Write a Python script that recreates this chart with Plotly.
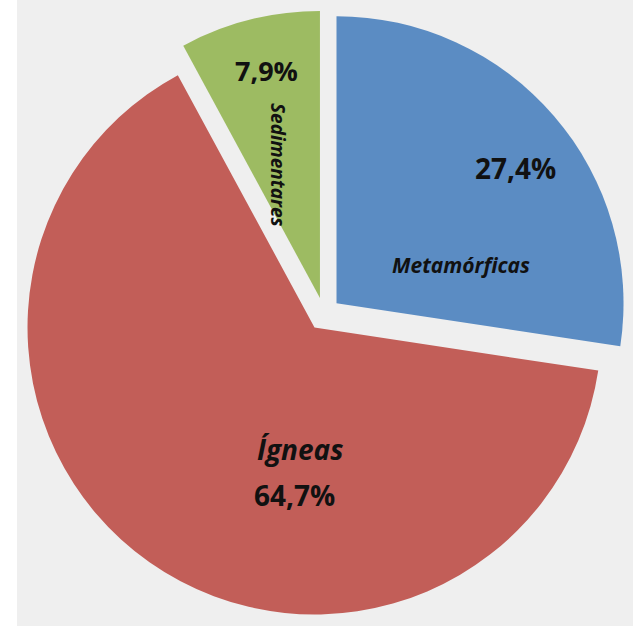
import plotly.graph_objects as go

# Rock types and their share of the total
labels = ["Metamórficas", "Ígneas", "Sedimentares"]
shares = [27.4, 64.7, 7.9]
colors = ["#5b8cc3", "#c25e58", "#9dbb62"]

W, H = 633, 626
FONT = "Open Sans"


def pct(v):
    return f"{v:.1f}".replace(".", ",") + "%"


fig = go.Figure(
    go.Pie(
        labels=labels,
        values=shares,
        sort=False,
        direction="clockwise",
        rotation=0,
        pull=[0.0575, 0.0575, 0.0575],
        marker=dict(colors=colors, line=dict(width=0)),
        textinfo="none",
        hoverinfo="skip",
        showlegend=False,
        domain=dict(x=[20.5 / W, 627.5 / W], y=[1 - 617.5 / H, 1 - 10.5 / H]),
    )
)


def px_ann(text, x, y, size, italic=False, angle=0):
    t = f"<b><i>{text}</i></b>" if italic else f"<b>{text}</b>"
    return dict(
        text=t,
        x=x / W,
        y=1 - y / H,
        xref="paper",
        yref="paper",
        xanchor="center",
        yanchor="middle",
        showarrow=False,
        textangle=angle,
        font=dict(family=FONT, size=size, color="#111111"),
    )


annotations = [
    px_ann(pct(shares[0]), 515, 168, 28),
    px_ann(labels[0], 461, 265, 21, italic=True),
    px_ann(labels[1], 300, 449, 28, italic=True),
    px_ann(pct(shares[1]), 294, 495, 28),
    px_ann(pct(shares[2]), 266, 70, 27),
    px_ann(labels[2], 278, 165, 19, italic=True, angle=90),
]

fig.update_layout(
    width=W,
    height=H,
    margin=dict(l=0, r=0, t=0, b=0),
    paper_bgcolor="white",
    plot_bgcolor="white",
    shapes=[
        dict(
            type="rect",
            xref="paper",
            yref="paper",
            x0=17 / W,
            x1=1,
            y0=0,
            y1=1,
            fillcolor="#efefef",
            line=dict(width=0),
            layer="below",
        )
    ],
    annotations=annotations,
)

fig.write_html("out.html")
